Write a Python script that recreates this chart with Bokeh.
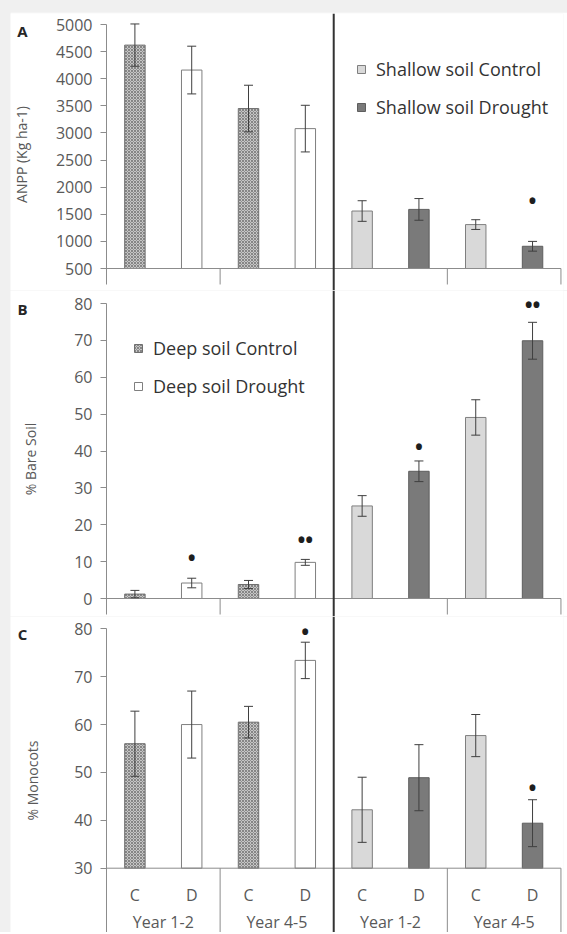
import numpy as np
from bokeh.plotting import figure
from bokeh.models import (Range1d, Span, LinearAxis, FixedTicker, ColumnDataSource,
                          Whisker, TeeHead, Legend, LegendItem)
from bokeh.layouts import column
from bokeh.embed import file_html
from bokeh.resources import INLINE
from bokeh.core.properties import value

# ---------------- data ----------------
soils = ["Deep", "Deep", "Deep", "Deep", "Shallow", "Shallow", "Shallow", "Shallow"]
years = ["Year 1-2", "Year 1-2", "Year 4-5", "Year 4-5", "Year 1-2", "Year 1-2", "Year 4-5", "Year 4-5"]
treatments = ["C", "D", "C", "D", "C", "D", "C", "D"]
series_names = ["Deep soil Control", "Deep soil Drought", "Shallow soil Control", "Shallow soil Drought"]

anpp = [4620, 4160, 3450, 3080, 1560, 1590, 1310, 910]
anpp_err = [390, 440, 430, 430, 190, 200, 90, 90]

bare = [1.2, 4.2, 3.8, 9.8, 25.1, 34.5, 49.1, 69.9]
bare_err = [1.0, 1.3, 1.1, 0.8, 2.8, 2.8, 4.8, 5.0]

mono = [56.0, 60.0, 60.5, 73.4, 42.2, 48.9, 57.7, 39.4]
mono_err = [6.8, 7.0, 3.3, 3.8, 6.8, 6.9, 4.4, 4.9]

anpp_ticks = [500, 1000, 1500, 2000, 2500, 3000, 3500, 4000, 4500, 5000]
bare_ticks = [0, 10, 20, 30, 40, 50, 60, 70, 80]
mono_ticks = [30, 40, 50, 60, 70, 80]

# significance marks: bar index, mark, y position (data units)
sig_a_idx, sig_a_txt, sig_a_y = [7], ["•"], [1754]
sig_b_idx, sig_b_txt, sig_b_y = [1, 3, 5, 7], ["•", "••", "•", "••"], [10.9, 16.0, 41.0, 79.5]
sig_c_idx, sig_c_txt, sig_c_y = [3, 7], ["•", "•"], [79.3, 46.8]

# panel letters: text, y position (data units)
letters = ["A", "B", "C"]
letter_y = [4889, 78.6, 79.0]

# ---------------- style ----------------
FONT = "Open Sans"
TXT = "#595959"
AX = "#8c8c8c"
ERR = "#3f3f3f"

n = len(treatments)
xc = np.arange(n) * 2 + 1              # bar centres (2 units per category)
bounds_x = np.arange(0, 2 * n + 1, 4)  # group boundaries
year_x = (bounds_x[:-1] + bounds_x[1:]) / 2
series_of = [s + " soil " + ("Control" if t == "C" else "Drought") for s, t in zip(soils, treatments)]
X_RANGE = (-3.38, 16.09)   # frame covers the left margin too; the y axis sits at x = 0
LETTER_X = -2.96

styles = {
    "Deep soil Control": dict(fill_color="#c6c6c6", line_color="#6f6f6f", hatch_pattern="x",
                              hatch_color="#6a6a6a", hatch_scale=3.0, hatch_weight=0.7),
    "Deep soil Drought": dict(fill_color="white", line_color="#7f7f7f"),
    "Shallow soil Control": dict(fill_color="#d9d9d9", line_color="#7f7f7f"),
    "Shallow soil Drought": dict(fill_color="#7a7a7a", line_color="#5e5e5e"),
}


def make_panel(vals, errs, base, yr, sep_low, yticks, ylabel, lab_standoff, height, border_top, margin,
               letter, ly, sig_idx, sig_txt, sig_y, legend_names=None, legend_loc=None):
    vals = np.array(vals, dtype=float)
    errs = np.array(errs, dtype=float)
    p = figure(width=557, height=height, x_range=Range1d(*X_RANGE), y_range=Range1d(*yr),
               output_backend="svg", toolbar_location=None, x_axis_location=None,
               min_border_left=0, min_border_right=4, min_border_top=border_top, min_border_bottom=0,
               margin=margin)
    p.outline_line_color = None
    p.grid.visible = False
    p.background_fill_color = "white"
    p.border_fill_color = "white"

    ya = p.yaxis[0]
    ya.fixed_location = 0
    ya.ticker = FixedTicker(ticks=yticks)
    ya.bounds = (sep_low, yticks[-1])
    ya.axis_line_color = AX
    ya.major_tick_line_color = AX
    ya.major_tick_out = 6
    ya.major_tick_in = 0
    ya.minor_tick_line_color = None
    ya.major_label_standoff = 8
    ya.major_label_text_font = FONT
    ya.major_label_text_font_size = "16px"
    ya.major_label_text_color = TXT
    ya.axis_label = ylabel
    ya.axis_label_text_font = FONT
    ya.axis_label_text_font_size = "14px"
    ya.axis_label_text_font_style = "normal"
    ya.axis_label_text_color = TXT
    ya.axis_label_standoff = lab_standoff

    renderers = {}
    for name in series_names:
        idx = [i for i, s in enumerate(series_of) if s == name]
        src = ColumnDataSource(dict(x=xc[idx], top=vals[idx]))
        r = p.vbar(x="x", top="top", bottom=base, width=0.72, source=src, line_width=1, **styles[name])
        renderers[name] = r

    esrc = ColumnDataSource(dict(x=xc, upper=vals + errs, lower=vals - errs))
    w = Whisker(base="x", upper="upper", lower="lower", source=esrc, line_color=ERR, line_width=1,
                upper_head=TeeHead(size=9, line_color=ERR, line_width=1),
                lower_head=TeeHead(size=9, line_color=ERR, line_width=1))
    w.level = "overlay"
    p.add_layout(w)

    # x axis line, group separators and the deep/shallow divider
    mid = 2 * n // 2
    p.segment(x0=[0], y0=[base], x1=[2 * n], y1=[base], line_color=AX, line_width=1)
    seps = [b for b in bounds_x[1:] if b != mid]
    p.segment(x0=seps, y0=[base] * len(seps), x1=seps, y1=[sep_low] * len(seps), line_color=AX, line_width=1)
    p.add_layout(Span(location=mid, dimension="height", line_color="#333333", line_width=2))

    if sig_idx:
        p.text(x=xc[sig_idx], y=sig_y, text=sig_txt, text_align="center", text_baseline="middle",
               text_font=value(FONT), text_font_size="21px", text_font_style="bold", text_color="#1e1e1e")

    p.text(x=[LETTER_X], y=[ly], text=[letter], text_align="center", text_baseline="middle",
           text_font=value(FONT), text_font_size="15px", text_font_style="bold", text_color="#262626")

    if legend_names:
        items = [LegendItem(label=nm, renderers=[renderers[nm]]) for nm in legend_names]
        lg = Legend(items=items, location=legend_loc, orientation="vertical", padding=0, margin=0,
                    spacing=14, glyph_width=10, glyph_height=10, label_standoff=10, label_height=20,
                    label_text_font=FONT, label_text_font_size="18px", label_text_color="#333333",
                    border_line_color=None, background_fill_alpha=0)
        p.add_layout(lg)
    return p


pa = make_panel(anpp, anpp_err, 500, (94.3, 5203), 205, anpp_ticks, "ANPP (Kg ha-1)", 22, 278, 1,
                (12, 0, 0, 10), letters[0], letter_y[0], sig_a_idx, sig_a_txt, sig_a_y,
                legend_names=["Shallow soil Control", "Shallow soil Drought"], legend_loc=(346, 171))
pb = make_panel(bare, bare_err, 0, (-4.88, 83.53), -4.34, bare_ticks, "% Bare Soil", 31, 326, 0,
                (0, 0, 0, 10), letters[1], letter_y[1], sig_b_idx, sig_b_txt, sig_b_y,
                legend_names=["Deep soil Control", "Deep soil Drought"], legend_loc=(123, 218))
pc = make_panel(mono, mono_err, 30, (16.57, 82.57), 16.57, mono_ticks, "% Monocots", 29, 316, 0,
                (0, 0, 0, 10), letters[2], letter_y[2], sig_c_idx, sig_c_txt, sig_c_y)

# category labels for panel C
ax1 = LinearAxis(fixed_location=30, ticker=FixedTicker(ticks=[int(v) for v in xc]),
                 major_label_overrides={int(v): t for v, t in zip(xc, treatments)},
                 axis_line_color=None, major_tick_line_color=None, minor_tick_line_color=None,
                 major_label_standoff=10, major_label_text_font=FONT, major_label_text_font_size="16px",
                 major_label_text_color=TXT)
pc.add_layout(ax1, "below")
ax2 = LinearAxis(fixed_location=30, ticker=FixedTicker(ticks=[int(v) for v in year_x]),
                 major_label_overrides={int(v): years[int(v) // 2 - 1] for v in year_x},
                 axis_line_color=None, major_tick_line_color=None, minor_tick_line_color=None,
                 major_label_standoff=37, major_label_text_font=FONT, major_label_text_font_size="16px",
                 major_label_text_color=TXT)
pc.add_layout(ax2, "below")

layout = column(pa, pb, pc, spacing=0, styles={"background-color": "#f0f0f0"})
open("out.html", "w").write(file_html(layout, INLINE))
